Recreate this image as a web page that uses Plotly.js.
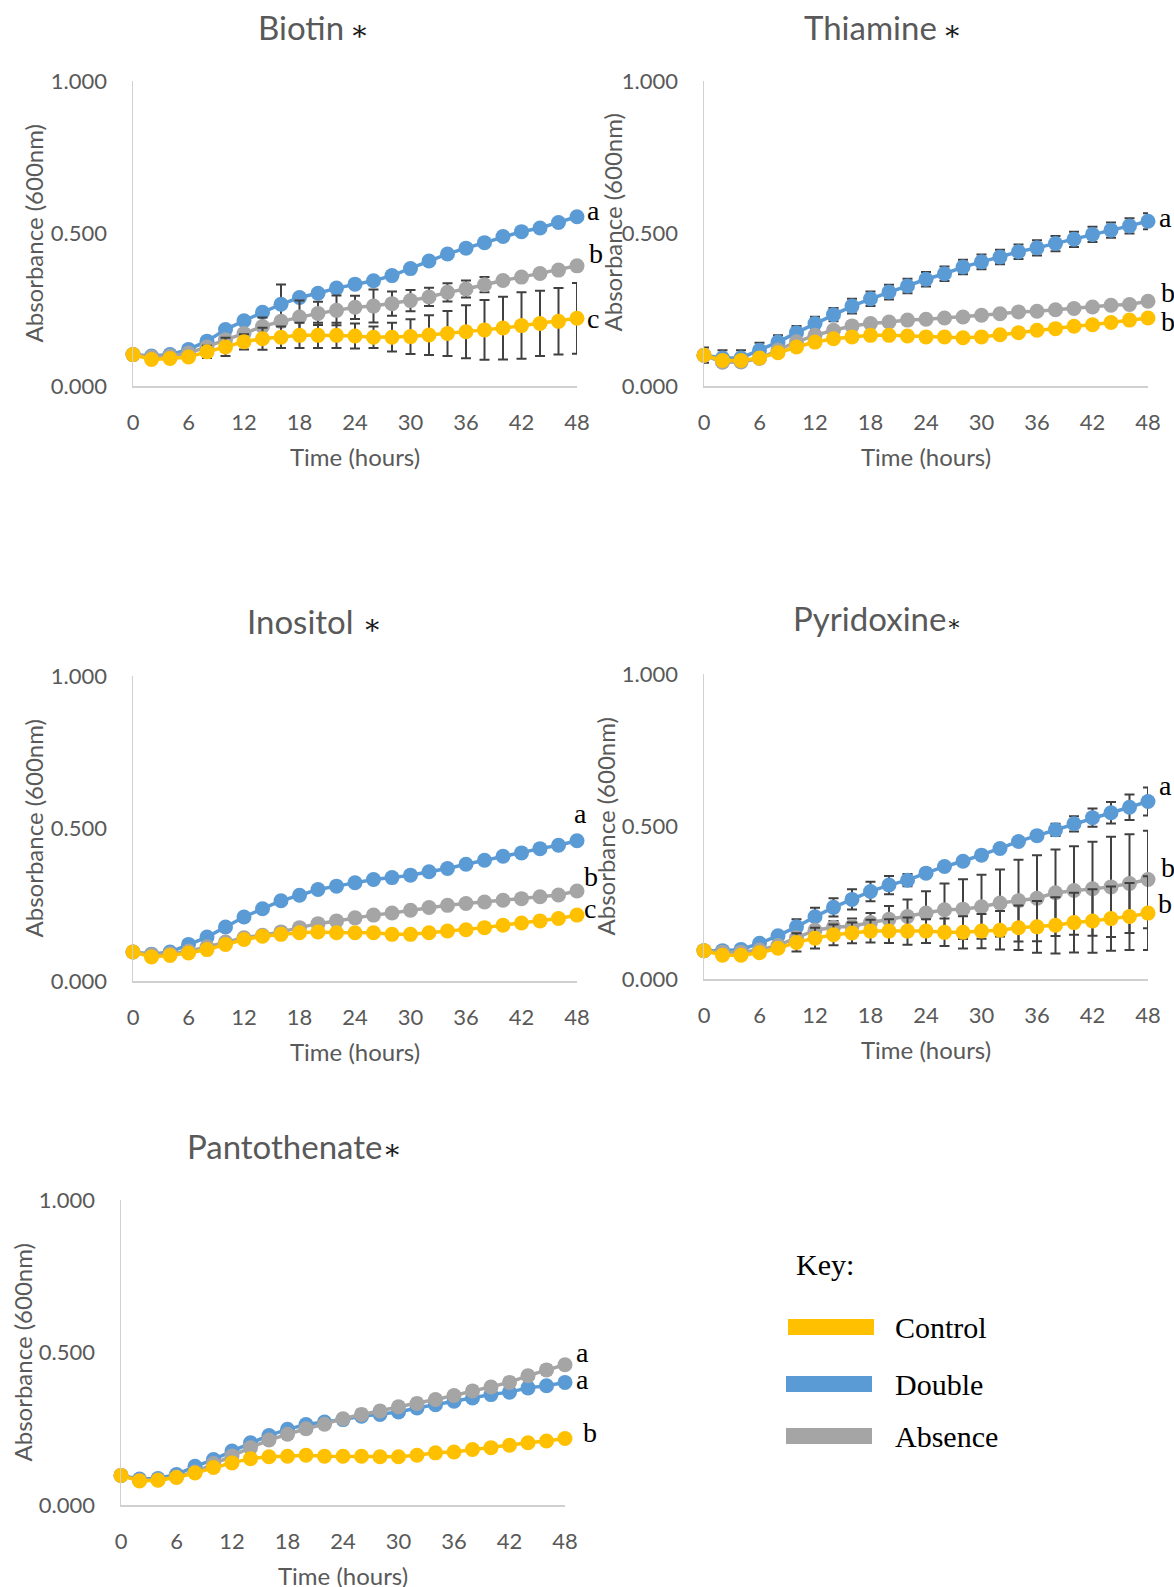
<!DOCTYPE html>
<html>
<head>
<meta charset="utf-8">
<script src="https://cdn.plot.ly/plotly-3.0.1.min.js"></script>
<style>html,body{margin:0;padding:0;background:#fff;}#chart{width:1174px;height:1587px;}</style>
</head>
<body>
<div id="chart"></div>
<script>
// ---- data ----
const time = [0,2,4,6,8,10,12,14,16,18,20,22,24,26,28,30,32,34,36,38,40,42,44,46,48];
const seriesNames = ["Control","Double","Absence"];
const panelTitles = ["Biotin","Thiamine","Inositol","Pyridoxine","Pantothenate"];
const xTickVals = [0,6,12,18,24,30,36,42,48];
const yTickVals = [0,0.5,1];

// Biotin
const biotinControl = [0.103,0.087,0.090,0.095,0.112,0.128,0.145,0.155,0.160,0.166,0.166,0.166,0.164,0.160,0.160,0.162,0.167,0.172,0.178,0.184,0.190,0.198,0.205,0.212,0.222];
const biotinControlErr = [0.005,0.005,0.005,0.008,0.020,0.030,0.025,0.036,0.035,0.041,0.041,0.041,0.041,0.035,0.047,0.057,0.065,0.074,0.087,0.098,0.103,0.109,0.107,0.109,0.116];
const biotinDouble = [0.103,0.098,0.103,0.120,0.147,0.185,0.214,0.242,0.268,0.290,0.304,0.321,0.334,0.345,0.362,0.385,0.410,0.433,0.452,0.470,0.490,0.506,0.518,0.536,0.555];
const biotinDoubleErr = [0.008,0.008,0.008,0.008,0.010,0.010,0.010,0.010,0.065,0.010,0.010,0.010,0.010,0.010,0.010,0.010,0.010,0.010,0.010,0.010,0.010,0.010,0.012,0.012,0.012];
const biotinAbsence = [0.103,0.095,0.098,0.108,0.128,0.152,0.172,0.195,0.212,0.226,0.238,0.248,0.258,0.262,0.270,0.280,0.292,0.307,0.318,0.332,0.346,0.357,0.369,0.380,0.394];
const biotinAbsenceErr = [0.008,0.008,0.008,0.008,0.010,0.010,0.012,0.030,0.012,0.054,0.038,0.049,0.038,0.054,0.040,0.035,0.030,0.030,0.028,0.025,0.015,0.010,0.010,0.010,0.010];

// Thiamine
const thiamineControl = [0.101,0.084,0.084,0.092,0.109,0.128,0.144,0.155,0.161,0.166,0.166,0.164,0.161,0.161,0.158,0.161,0.168,0.175,0.183,0.188,0.196,0.201,0.208,0.216,0.223];
const thiamineControlErr = [0.005,0.005,0.005,0.005,0.005,0.005,0.005,0.005,0.005,0.005,0.005,0.005,0.005,0.005,0.005,0.005,0.005,0.005,0.005,0.005,0.005,0.005,0.005,0.005,0.005];
const thiamineDouble = [0.101,0.092,0.092,0.117,0.144,0.175,0.205,0.234,0.262,0.286,0.308,0.328,0.350,0.368,0.390,0.407,0.423,0.440,0.453,0.467,0.481,0.497,0.511,0.525,0.540];
const thiamineDoubleErr = [0.025,0.025,0.025,0.025,0.022,0.022,0.022,0.022,0.024,0.024,0.024,0.024,0.024,0.024,0.024,0.024,0.024,0.024,0.025,0.025,0.025,0.025,0.025,0.025,0.026];
const thiamineAbsence = [0.101,0.078,0.079,0.090,0.118,0.145,0.166,0.183,0.197,0.205,0.210,0.216,0.219,0.223,0.226,0.232,0.237,0.243,0.245,0.250,0.254,0.259,0.265,0.267,0.278];
const thiamineAbsenceErr = [0.008,0.008,0.008,0.008,0.008,0.008,0.008,0.008,0.008,0.008,0.008,0.008,0.008,0.008,0.008,0.008,0.008,0.008,0.008,0.008,0.008,0.008,0.008,0.008,0.008];

// Inositol
const inositolControl = [0.095,0.079,0.084,0.092,0.103,0.120,0.136,0.147,0.153,0.158,0.161,0.158,0.158,0.158,0.153,0.153,0.158,0.164,0.168,0.175,0.183,0.190,0.197,0.205,0.216];
const inositolControlErr = [0.005,0.005,0.005,0.005,0.005,0.005,0.005,0.005,0.005,0.005,0.005,0.005,0.005,0.005,0.005,0.005,0.005,0.005,0.005,0.005,0.005,0.005,0.005,0.005,0.005];
const inositolDouble = [0.095,0.088,0.095,0.120,0.144,0.177,0.210,0.237,0.263,0.281,0.300,0.311,0.322,0.333,0.339,0.347,0.358,0.369,0.383,0.396,0.409,0.420,0.434,0.445,0.460];
const inositolDoubleErr = [0.012,0.012,0.012,0.012,0.012,0.012,0.012,0.012,0.012,0.012,0.012,0.012,0.012,0.012,0.012,0.012,0.012,0.012,0.012,0.012,0.012,0.012,0.012,0.012,0.012];
const inositolAbsence = [0.095,0.086,0.089,0.098,0.112,0.128,0.142,0.150,0.161,0.175,0.188,0.197,0.207,0.216,0.223,0.232,0.241,0.248,0.254,0.259,0.265,0.270,0.276,0.282,0.295];
const inositolAbsenceErr = [0.006,0.006,0.006,0.006,0.006,0.006,0.006,0.006,0.006,0.006,0.006,0.006,0.006,0.006,0.006,0.006,0.006,0.006,0.006,0.006,0.006,0.006,0.006,0.006,0.006];

// Pyridoxine
const pyridoxineControl = [0.093,0.078,0.078,0.086,0.101,0.120,0.134,0.145,0.151,0.157,0.157,0.157,0.157,0.153,0.153,0.157,0.160,0.168,0.171,0.176,0.185,0.190,0.198,0.205,0.216];
const pyridoxineControlErr = [0.005,0.005,0.005,0.008,0.010,0.030,0.034,0.034,0.034,0.037,0.039,0.045,0.039,0.045,0.053,0.056,0.063,0.073,0.085,0.092,0.098,0.104,0.105,0.110,0.121];
const pyridoxineDouble = [0.093,0.093,0.097,0.117,0.142,0.171,0.204,0.235,0.261,0.287,0.308,0.324,0.347,0.369,0.386,0.406,0.428,0.451,0.470,0.489,0.509,0.529,0.545,0.563,0.582];
const pyridoxineDoubleErr = [0.010,0.010,0.010,0.010,0.010,0.025,0.030,0.030,0.033,0.032,0.030,0.020,0.015,0.010,0.010,0.010,0.010,0.012,0.015,0.020,0.025,0.030,0.035,0.042,0.046];
const pyridoxineAbsence = [0.093,0.088,0.088,0.095,0.110,0.135,0.160,0.170,0.173,0.185,0.196,0.205,0.216,0.227,0.229,0.237,0.249,0.257,0.265,0.283,0.290,0.296,0.302,0.313,0.326];
const pyridoxineAbsenceErr = [0.008,0.008,0.008,0.008,0.010,0.012,0.015,0.020,0.025,0.031,0.043,0.056,0.072,0.086,0.098,0.105,0.110,0.134,0.141,0.142,0.145,0.154,0.164,0.162,0.160];

// Pantothenate
const pantothenateControl = [0.097,0.079,0.081,0.090,0.105,0.123,0.138,0.152,0.158,0.160,0.163,0.160,0.160,0.160,0.158,0.158,0.163,0.171,0.174,0.182,0.188,0.196,0.204,0.210,0.218];
const pantothenateControlErr = [0.005,0.005,0.005,0.005,0.005,0.005,0.005,0.005,0.005,0.005,0.005,0.005,0.005,0.005,0.005,0.005,0.005,0.005,0.005,0.005,0.005,0.005,0.005,0.005,0.005];
const pantothenateDouble = [0.097,0.085,0.087,0.100,0.127,0.149,0.177,0.204,0.228,0.248,0.264,0.272,0.280,0.291,0.297,0.305,0.318,0.329,0.340,0.351,0.362,0.370,0.384,0.391,0.402];
const pantothenateDoubleErr = [0.012,0.012,0.012,0.012,0.012,0.012,0.012,0.012,0.012,0.012,0.012,0.012,0.012,0.012,0.012,0.012,0.012,0.012,0.012,0.012,0.012,0.012,0.012,0.012,0.012];
const pantothenateAbsence = [0.097,0.081,0.083,0.092,0.108,0.136,0.161,0.188,0.213,0.232,0.250,0.265,0.283,0.297,0.308,0.322,0.333,0.346,0.359,0.374,0.387,0.402,0.424,0.443,0.460];
const pantothenateAbsenceErr = [0.015,0.015,0.015,0.015,0.015,0.015,0.015,0.015,0.015,0.015,0.015,0.015,0.015,0.015,0.015,0.015,0.015,0.015,0.015,0.015,0.015,0.015,0.015,0.015,0.015];

// significance letters: [label, y value]
const biotinLetters = [["a",0.576],["b",0.435],["c",0.222]];
const thiamineLetters = [["a",0.554],["b",0.305],["b",0.210]];
const inositolLetters = [["a",0.548],["b",0.341],["c",0.239]];
const pyridoxineLetters = [["a",0.636],["b",0.364],["b",0.246]];
const pantothenateLetters = [["a",0.499],["a",0.410],["b",0.239]];

// ---- build ----
const colors = {Control:"#FFC000", Double:"#5B9BD5", Absence:"#A5A5A5"};
const panels = [
  {c:biotinControl, ce:biotinControlErr, d:biotinDouble, de:biotinDoubleErr, a:biotinAbsence, ae:biotinAbsenceErr, letters:biotinLetters, lshift:[14,16,14]},
  {c:thiamineControl, ce:thiamineControlErr, d:thiamineDouble, de:thiamineDoubleErr, a:thiamineAbsence, ae:thiamineAbsenceErr, letters:thiamineLetters, lshift:[15,17,17]},
  {c:inositolControl, ce:inositolControlErr, d:inositolDouble, de:inositolDoubleErr, a:inositolAbsence, ae:inositolAbsenceErr, letters:inositolLetters, lshift:[1,11,11]},
  {c:pyridoxineControl, ce:pyridoxineControlErr, d:pyridoxineDouble, de:pyridoxineDoubleErr, a:pyridoxineAbsence, ae:pyridoxineAbsenceErr, letters:pyridoxineLetters, lshift:[15,17,14]},
  {c:pantothenateControl, ce:pantothenateControlErr, d:pantothenateDouble, de:pantothenateDoubleErr, a:pantothenateAbsence, ae:pantothenateAbsenceErr, letters:pantothenateLetters, lshift:[15,15,22]}
];
// plot-area domains in paper fractions
const W = 1174, H = 1587;
const boxes = [
  {x0:133, x1:577, y0:81,  y1:386},
  {x0:704, x1:1148, y0:81, y1:386},
  {x0:133, x1:577, y0:676, y1:981},
  {x0:704, x1:1148, y0:674, y1:979},
  {x0:121, x1:565, y0:1200, y1:1505}
];
const titlePos = [
  {x:256, y:27, star:"\u2009∗", sz:28},
  {x:802, y:27, star:"\u2009∗", sz:28},
  {x:245, y:621, star:" ∗", sz:28},
  {x:791, y:618, star:"∗", sz:22},
  {x:185, y:1146, star:"∗", sz:28}
];
const yTitleShift = [-100,-92,-100,-99,-99];
const yTitleOff = [0,11,0,0,0];

const traces = [];
const annotations = [];
const layout = {
  width: W, height: H,
  margin: {l:0, r:0, t:0, b:0},
  paper_bgcolor: "#ffffff", plot_bgcolor: "#ffffff",
  showlegend: false,
  font: {family: "Lato, 'Open Sans', sans-serif", color: "#595959"},
  annotations: annotations,
  shapes: []
};
const tickFont = {family:"Lato", size:22, color:"#595959"};

panels.forEach((p, i) => {
  const n = i + 1;
  const xa = n === 1 ? "x" : "x" + n;
  const ya = n === 1 ? "y" : "y" + n;
  const b = boxes[i];
  layout["xaxis" + (n === 1 ? "" : n)] = {
    domain: [b.x0 / W, b.x1 / W], anchor: ya, range: [0, 48],
    tickmode: "array", tickvals: xTickVals, ticks: "", showgrid: false, zeroline: false,
    showline: true, linecolor: "#d0d0d0", linewidth: 1.5,
    tickfont: tickFont, ticklabelstandoff: 16, fixedrange: true
  };
  layout["yaxis" + (n === 1 ? "" : n)] = {
    domain: [1 - b.y1 / H, 1 - b.y0 / H], anchor: xa, range: [0, 1],
    tickmode: "array", tickvals: yTickVals, tickformat: ".3f", ticks: "", showgrid: false, zeroline: false,
    showline: true, linecolor: "#d0d0d0", linewidth: 1.5,
    tickfont: tickFont, ticklabelstandoff: 20, fixedrange: true
  };
  const order = [["Double", p.d, p.de], ["Absence", p.a, p.ae], ["Control", p.c, p.ce]];
  order.forEach(([name, ys, es]) => {
    traces.push({
      type: "scatter", mode: "lines+markers", name: name,
      x: time, y: ys, xaxis: xa, yaxis: ya, cliponaxis: false,
      line: {color: colors[name], width: 3.5},
      marker: {color: colors[name], size: 15, line: {width: 0}},
      error_y: {type: "data", array: es, visible: true, color: "#404040", thickness: 2, width: 5}
    });
  });
  // letters
  p.letters.forEach(([t, yv], k) => {
    annotations.push({
      xref: xa, yref: ya, x: 48, y: yv, text: t, showarrow: false,
      xanchor: "left", yanchor: "middle", xshift: p.lshift[k] - 6,
      font: {family: "'Liberation Serif', 'Times New Roman', serif", size: 28, color: "#000"}
    });
  });
  // panel title
  const tp = titlePos[i];
  annotations.push({
    xref: "paper", yref: "paper", x: tp.x / W, y: 1 - tp.y / H, xanchor: "left", yanchor: "middle",
    showarrow: false,
    text: panelTitles[i] + '<span style="font-family:\'DejaVu Serif\';font-size:' + tp.sz + 'px;color:#1a1a1a">' + tp.star + '</span>',
    font: {family: "Lato", size: 33, color: "#595959"}
  });
  // axis titles
  annotations.push({
    xref: xa + " domain", yref: ya + " domain", x: 0.5, y: 0, yshift: -70,
    xanchor: "center", yanchor: "middle", showarrow: false, text: "Time (hours)",
    font: {family: "Lato", size: 24, color: "#595959"}
  });
  annotations.push({
    xref: xa + " domain", yref: ya + " domain", x: 0, y: 0.5, xshift: yTitleShift[i], yshift: yTitleOff[i],
    xanchor: "center", yanchor: "middle", showarrow: false, textangle: -90, text: "Absorbance (600nm)",
    font: {family: "Lato", size: 24, color: "#595959"}
  });
});

// key
annotations.push({xref:"paper", yref:"paper", x:794/W, y:1-1264/H, xanchor:"left", yanchor:"middle", showarrow:false,
  text:"Key:", font:{family:"'Liberation Serif', serif", size:30, color:"#000"}});
const keyRows = [["Control",788,1327],["Double",786,1384],["Absence",786,1436]];
keyRows.forEach(([name, x0, yc]) => {
  layout.shapes.push({type:"rect", xref:"paper", yref:"paper", x0:x0/W, x1:(x0+86)/W, y0:1-(yc+8)/H, y1:1-(yc-8)/H,
    fillcolor: colors[name], line:{width:0}});
  annotations.push({xref:"paper", yref:"paper", x:893/W, y:1-yc/H, xanchor:"left", yanchor:"middle", showarrow:false,
    text:name, font:{family:"'Liberation Serif', serif", size:30, color:"#000"}});
});

Plotly.newPlot("chart", traces, layout, {displayModeBar:false, staticPlot:true});
</script>
</body>
</html>
